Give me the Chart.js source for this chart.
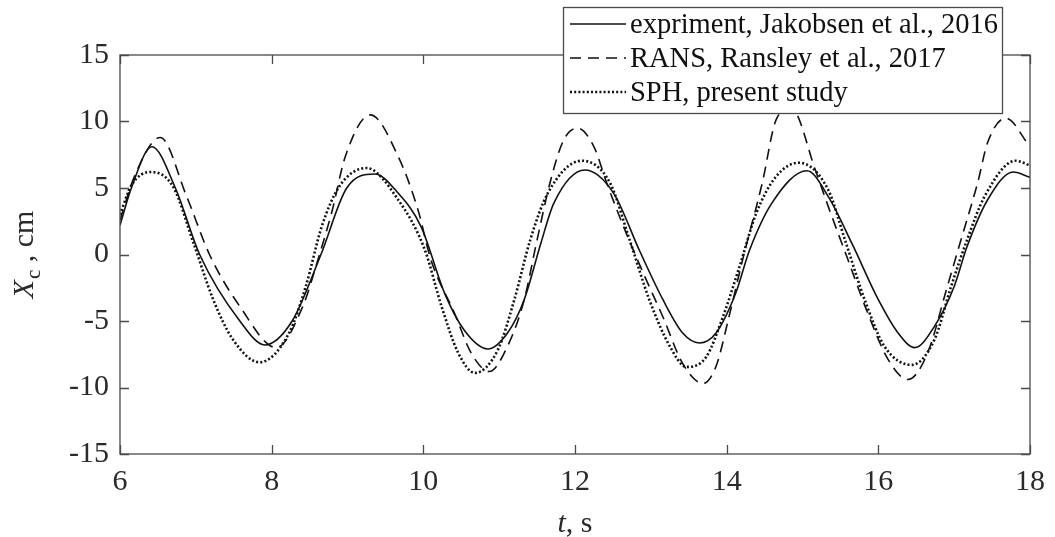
<!DOCTYPE html>
<html>
<head>
<meta charset="utf-8">
<script src="https://cdn.jsdelivr.net/npm/chart.js@4.4.1/dist/chart.umd.min.js"></script>
<style>
  html, body { margin: 0; padding: 0; background: #ffffff; }
  #wrap { width: 1055px; height: 537px; }
</style>
</head>
<body>
<div id="wrap"><canvas id="c" width="1055" height="537"></canvas></div>
<script>
// ---- data ----
const seriesLabels = ["expriment, Jakobsen et al., 2016", "RANS, Ransley et al., 2017", "SPH, present study"];

const tExp  = [6.0, 6.15, 6.42, 6.73, 7.05, 7.58, 7.91, 8.27, 8.65, 8.99, 9.36, 9.67, 9.97, 10.28, 10.54, 10.85, 11.11, 11.33, 11.55, 11.72, 12.13, 12.51, 12.85, 13.16, 13.42, 13.64, 13.86, 14.12, 14.3, 14.6, 15.06, 15.34, 15.65, 16.0, 16.26, 16.48, 16.74, 17.0, 17.17, 17.44, 17.78, 18.0];
const xcExp = [2.2, 5.0, 8.1, 5.0, 0.0, -5.0, -6.8, -5.0, 0.0, 5.0, 6.05, 4.6, 2.1, -2.9, -5.7, -7.1, -5.9, -3.4, 0.85, 3.85, 6.35, 4.6, 0.3, -3.4, -5.9, -6.65, -5.9, -2.9, 0.3, 3.9, 6.3, 4.35, 0.85, -3.4, -5.9, -7.0, -5.4, -2.4, 0.6, 4.1, 6.2, 5.8];

const tRans  = [6.0, 6.2, 6.53, 6.88, 7.18, 7.58, 8.06, 8.41, 8.62, 8.8, 8.97, 9.3, 9.67, 9.93, 10.1, 10.41, 10.63, 10.87, 11.11, 11.33, 11.5, 11.68, 11.85, 12.03, 12.25, 12.42, 12.64, 12.9, 13.16, 13.42, 13.69, 13.86, 14.03, 14.21, 14.47, 14.65, 14.85, 15.17, 15.34, 15.6, 15.86, 16.13, 16.39, 16.65, 16.91, 17.09, 17.31, 17.44, 17.68, 18.0];
const xcRans = [2.6, 6.0, 8.8, 4.35, 0.0, -3.9, -7.0, -3.9, -0.2, 3.35, 7.35, 10.5, 7.35, 3.35, -0.4, -4.4, -7.4, -8.8, -6.9, -3.4, 1.1, 5.6, 8.6, 9.5, 8.1, 5.35, 2.1, -1.4, -4.7, -8.2, -9.7, -8.4, -4.7, -0.4, 5.4, 10.1, 11.0, 6.35, 3.6, -0.4, -4.4, -7.9, -9.4, -7.4, -2.4, 1.1, 5.4, 8.4, 10.25, 8.1];

const tSph  = [6.0, 6.15, 6.4, 6.7, 6.97, 7.23, 7.49, 7.84, 8.23, 8.45, 8.66, 8.89, 9.25, 9.67, 10.02, 10.24, 10.46, 10.68, 10.98, 11.2, 11.41, 11.64, 12.09, 12.46, 12.72, 12.98, 13.25, 13.47, 13.73, 13.95, 14.17, 14.39, 14.65, 14.95, 15.34, 15.56, 15.82, 16.08, 16.44, 16.74, 16.96, 17.17, 17.4, 17.81, 18.0];
const xcSph = [3.0, 5.2, 6.2, 5.1, 0.85, -3.4, -6.4, -8.1, -5.9, -2.4, 2.1, 5.1, 6.5, 4.1, 0.35, -3.9, -7.4, -8.9, -7.2, -3.4, 1.1, 4.6, 7.05, 5.4, 1.1, -3.4, -6.9, -8.45, -7.7, -4.7, -0.9, 3.1, 5.85, 6.9, 4.85, 1.1, -3.4, -6.9, -8.3, -6.4, -2.4, 1.1, 4.35, 7.05, 6.7];

const xTicks = [6, 8, 10, 12, 14, 16, 18];
const yTicks = [-15, -10, -5, 0, 5, 10, 15];

// ---- styling ----
const FONT = "'Liberation Serif', 'Times New Roman', serif";
const AXIS_COLOR = '#4a4a4a';
const TEXT_COLOR = '#2a2a2a';

const pts = (ts, vs) => ts.map((t, i) => ({ x: t, y: vs[i] }));

const frameAndText = {
  id: 'frameAndText',
  afterDraw(chart) {
    const ctx = chart.ctx;
    const a = chart.chartArea;
    const xs = chart.scales.x, ys = chart.scales.y;
    ctx.save();
    // frame
    ctx.strokeStyle = AXIS_COLOR;
    ctx.lineWidth = 1.3;
    ctx.strokeRect(a.left, a.top, a.right - a.left, a.bottom - a.top);
    // inward tick marks
    const TL = 9;
    ctx.beginPath();
    xTicks.forEach(v => {
      const px = Math.round(xs.getPixelForValue(v)) + 0.5;
      ctx.moveTo(px, a.bottom); ctx.lineTo(px, a.bottom - TL);
      ctx.moveTo(px, a.top); ctx.lineTo(px, a.top + TL);
    });
    yTicks.forEach(v => {
      const py = Math.round(ys.getPixelForValue(v)) + 0.5;
      ctx.moveTo(a.left, py); ctx.lineTo(a.left + TL, py);
      ctx.moveTo(a.right, py); ctx.lineTo(a.right - TL, py);
    });
    ctx.stroke();

    // x axis title: "t, s"
    ctx.fillStyle = TEXT_COLOR;
    ctx.textBaseline = 'alphabetic';
    ctx.textAlign = 'left';
    const cx = (a.left + a.right) / 2;
    ctx.font = 'italic 30px ' + FONT;
    const wT = ctx.measureText('t').width;
    ctx.font = '30px ' + FONT;
    const wR = ctx.measureText(', s').width;
    let x0 = cx - (wT + wR) / 2;
    const by = a.bottom + 78;
    ctx.font = 'italic 30px ' + FONT;
    ctx.fillText('t', x0, by);
    ctx.font = '30px ' + FONT;
    ctx.fillText(', s', x0 + wT, by);

    // y axis title: "X_c , cm" rotated
    ctx.save();
    ctx.translate(a.left - 87, (a.top + a.bottom) / 2);
    ctx.rotate(-Math.PI / 2);
    ctx.font = 'italic 30px ' + FONT;
    const wX = ctx.measureText('X').width;
    ctx.font = '21px ' + FONT;
    const wc = ctx.measureText('c').width;
    ctx.font = '30px ' + FONT;
    const wcm = ctx.measureText(' , cm').width;
    let sx = -(wX + wc + 1 + wcm) / 2;
    ctx.font = 'italic 30px ' + FONT;
    ctx.fillText('X', sx, 0);
    sx += wX + 1;
    ctx.font = '21px ' + FONT;
    ctx.fillText('c', sx, 7);
    sx += wc;
    ctx.font = '30px ' + FONT;
    ctx.fillText(' , cm', sx, 0);
    ctx.restore();

    // legend (opaque box over the plot)
    const lx = 563, ly = 7, lw = 439, lh = 106;
    ctx.fillStyle = '#ffffff';
    ctx.fillRect(lx, ly, lw, lh);
    ctx.strokeStyle = AXIS_COLOR;
    ctx.lineWidth = 1.3;
    ctx.strokeRect(lx + 0.5, ly + 0.5, lw, lh);
    const baselines = [33, 67, 101];
    chart.data.datasets.forEach((ds, i) => {
      const yb = baselines[i];
      const yl = yb - 9;
      ctx.save();
      ctx.strokeStyle = ds.borderColor;
      ctx.lineWidth = ds.borderWidth;
      ctx.setLineDash(ds.borderDash || []);
      ctx.beginPath();
      ctx.moveTo(570, yl);
      ctx.lineTo(626, yl);
      ctx.stroke();
      ctx.restore();
      ctx.fillStyle = '#111111';
      ctx.font = '28.5px ' + FONT;
      ctx.textAlign = 'left';
      ctx.fillText(ds.label, 630, yb);
    });
    ctx.restore();
  }
};

new Chart(document.getElementById('c'), {
  type: 'line',
  data: {
    datasets: [
      { label: seriesLabels[0], data: pts(tExp, xcExp), borderColor: '#111111', borderWidth: 1.6, borderDash: [], pointRadius: 0, cubicInterpolationMode: 'monotone', fill: false },
      { label: seriesLabels[1], data: pts(tRans, xcRans), borderColor: '#111111', borderWidth: 1.6, borderDash: [11, 7], pointRadius: 0, cubicInterpolationMode: 'monotone', fill: false },
      { label: seriesLabels[2], data: pts(tSph, xcSph), borderColor: '#111111', borderWidth: 2.6, borderDash: [2, 2.2], pointRadius: 0, cubicInterpolationMode: 'monotone', fill: false }
    ]
  },
  options: {
    responsive: false,
    devicePixelRatio: 1,
    animation: false,
    events: [],
    layout: { padding: { top: 55, right: 19, left: 0, bottom: 0 } },
    plugins: { legend: { display: false }, tooltip: { enabled: false }, title: { display: false } },
    scales: {
      x: {
        type: 'linear', min: 6, max: 18,
        afterBuildTicks: s => { s.ticks = xTicks.map(v => ({ value: v })); },
        afterFit: s => { s.height = 83; },
        grid: { display: false, drawTicks: false },
        border: { display: false },
        ticks: { padding: 10, color: TEXT_COLOR, font: { family: FONT, size: 30 }, maxRotation: 0, autoSkip: false }
      },
      y: {
        type: 'linear', min: -15, max: 15,
        afterBuildTicks: s => { s.ticks = yTicks.map(v => ({ value: v })); },
        afterFit: s => { s.width = 120; },
        grid: { display: false, drawTicks: false },
        border: { display: false },
        ticks: { padding: 11, color: TEXT_COLOR, font: { family: FONT, size: 30 }, autoSkip: false }
      }
    }
  },
  plugins: [frameAndText]
});
</script>
</body>
</html>
